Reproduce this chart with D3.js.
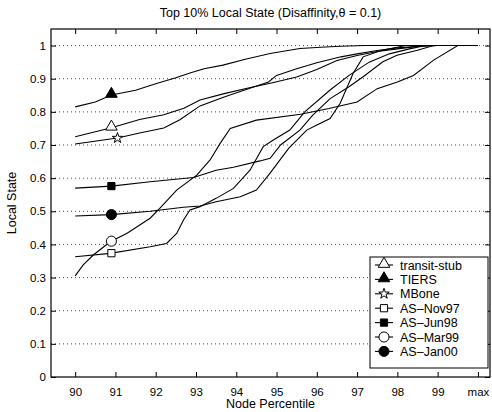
<!DOCTYPE html>
<html>
<head>
<meta charset="utf-8">
<script src="https://cdn.jsdelivr.net/npm/d3@7"></script>
<style>
body{margin:0;background:#fff;}
svg{font-family:"Liberation Sans",Arial,Helvetica,sans-serif;}
</style>
</head>
<body>
<div id="plot"></div>
<script>
// values (x = node percentile, 100 = "max")
var transitStub = [[90,0.725],[90.9,0.752],[91.6,0.777],[92.2,0.791],[92.7,0.811],[93.1,0.836],[93.7,0.855],[94.3,0.872],[94.9,0.888],[95.5,0.905],[96,0.928],[96.5,0.955],[97,0.97],[97.5,0.982],[98,0.99],[98.5,0.997],[99,1],[100,1]];
var tiers = [[90,0.815],[90.5,0.83],[90.9,0.851],[91.5,0.865],[92,0.885],[92.5,0.903],[92.85,0.917],[93.2,0.93],[93.67,0.941],[94.2,0.958],[94.84,0.976],[95.58,0.991],[96.1,0.995],[96.58,0.998],[97.2,1],[100,1]];
var mbone = [[90,0.703],[91.05,0.721],[91.6,0.736],[92.2,0.751],[92.6,0.776],[93.1,0.818],[93.7,0.845],[94.3,0.87],[94.8,0.89],[95,0.91],[95.5,0.93],[96,0.948],[96.6,0.966],[97,0.975],[97.5,0.985],[98,0.993],[98.5,0.998],[99,1],[100,1]];
var asNov97 = [[90,0.363],[90.87,0.373],[91.86,0.393],[92.27,0.403],[92.52,0.433],[92.69,0.474],[92.85,0.504],[93.1,0.514],[93.5,0.539],[93.93,0.569],[94.34,0.624],[94.67,0.695],[94.92,0.715],[95.33,0.745],[95.7,0.8],[96.33,0.866],[96.8,0.91],[97.3,0.95],[97.8,0.975],[98.3,0.99],[98.7,1],[100,1]];
var asJun98 = [[90,0.57],[90.9,0.576],[91.86,0.589],[92.94,0.602],[93.5,0.624],[93.93,0.633],[94.59,0.652],[94.84,0.66],[95.1,0.7],[95.58,0.745],[95.9,0.79],[96.33,0.84],[96.8,0.876],[97.15,0.906],[97.64,0.951],[97.99,0.971],[98.5,0.986],[98.9,1],[100,1]];
var asMar99 = [[90,0.305],[90.2,0.338],[90.45,0.368],[90.87,0.408],[91.28,0.433],[91.86,0.479],[92.1,0.509],[92.52,0.564],[93.02,0.609],[93.35,0.655],[93.6,0.705],[93.85,0.75],[94.5,0.775],[95.6,0.793],[96.3,0.81],[97,0.83],[97.5,0.87],[98,0.89],[98.4,0.91],[98.9,0.956],[99.5,1],[100,1]];
var asJan00 = [[90,0.486],[90.9,0.49],[91.86,0.5],[92.69,0.512],[93.1,0.516],[93.5,0.529],[94.1,0.544],[94.5,0.564],[94.84,0.615],[95.3,0.69],[95.75,0.745],[96,0.76],[96.33,0.78],[96.58,0.826],[96.9,0.916],[97.15,0.966],[97.6,0.985],[98.2,1],[100,1]];

var seriesNames = ['transit-stub','TIERS','MBone','AS\u2013Nov97','AS\u2013Jun98','AS\u2013Mar99','AS\u2013Jan00'];
var seriesData = [transitStub,tiers,mbone,asNov97,asJun98,asMar99,asJan00];
var markerType = ['triangle','triangle','star','square','square','circle','circle'];
var markerFilled = [false,true,false,false,true,false,true];
var markerAt = [90.9,90.9,91.05,90.9,90.9,90.9,90.9];

var xTicks = [90,91,92,93,94,95,96,97,98,99,100];
var xTickLabels = ['90','91','92','93','94','95','96','97','98','99','max'];
var yTicks = [0,0.1,0.2,0.3,0.4,0.5,0.6,0.7,0.8,0.9,1];

var W = 492, H = 412;
var margin = {t:29,r:2,b:35,l:51};
var width = W-margin.l-margin.r,
	height = H-margin.t-margin.b;

var svg = d3.select('#plot')
	.append('svg')
	.attr('width',W)
	.attr('height',H);

var plot = svg.append('g')
	.attr('transform','translate('+margin.l+','+margin.t+')');

var x = d3.scaleLinear().domain([89.4,100.3]).range([0,width]);
var y = d3.scaleLinear().domain([0,1.05]).range([height,0]);

// dotted grid
plot.selectAll('.grid')
	.data(yTicks.slice(1))
	.enter()
	.append('line')
	.attr('x1',0).attr('x2',width)
	.attr('y1',function(d){return y(d)}).attr('y2',function(d){return y(d)})
	.style('stroke','#222')
	.style('stroke-width',0.8)
	.style('stroke-dasharray','1,3');

var line = d3.line()
	.x(function(d){return x(d[0])})
	.y(function(d){return y(d[1])});

plot.selectAll('.series')
	.data(seriesData)
	.enter()
	.append('path')
	.attr('d',line)
	.style('fill','none')
	.style('stroke','#000')
	.style('stroke-width',1.1);

function valueAt(s,px){
	var i = d3.bisector(function(d){return d[0]}).left(s,px);
	if(i<=0) return s[0][1];
	var a = s[i-1], b = s[i];
	return a[1]+(b[1]-a[1])*(px-a[0])/(b[0]-a[0]);
}

function symbolFor(t){
	if(t=='triangle') return d3.symbol().type(d3.symbolTriangle).size(58)();
	if(t=='star') return d3.symbol().type(d3.symbolStar).size(34)();
	if(t=='square') return d3.symbol().type(d3.symbolSquare).size(52)();
	return d3.symbol().type(d3.symbolCircle).size(80)();
}

seriesData.forEach(function(s,i){
	var mx = markerAt[i];
	plot.append('path')
		.attr('d',symbolFor(markerType[i]))
		.attr('transform','translate('+x(mx)+','+(y(valueAt(s,mx))-(markerType[i]=='triangle'?1:0))+')')
		.style('fill',markerFilled[i]?'#000':'#fff')
		.style('stroke','#000')
		.style('stroke-width',1);
});

// frame and ticks (inward, all sides)
plot.append('rect')
	.attr('width',width).attr('height',height)
	.style('fill','none').style('stroke','#000').style('stroke-width',1.2);

var xAxis = plot.append('g')
	.attr('transform','translate(0,'+height+')')
	.call(d3.axisBottom(x).tickValues(xTicks).tickSizeInner(-5).tickSizeOuter(0)
		.tickFormat(function(d,i){return xTickLabels[i]}));
var xTop = plot.append('g')
	.call(d3.axisTop(x).tickValues(xTicks).tickSizeInner(-5).tickSizeOuter(0).tickFormat(''));
var yAxis = plot.append('g')
	.call(d3.axisLeft(y).tickValues(yTicks).tickSizeInner(-5).tickSizeOuter(0)
		.tickFormat(function(d){return d==0?'0':d==1?'1':d3.format('.1f')(d)}));
var yRight = plot.append('g')
	.attr('transform','translate('+width+',0)')
	.call(d3.axisRight(y).tickValues(yTicks).tickSizeInner(-5).tickSizeOuter(0).tickFormat(''));

[xAxis,xTop,yAxis,yRight].forEach(function(g){
	g.select('.domain').remove();
	g.selectAll('line').style('stroke','#000');
	g.selectAll('text').style('font-size','11.5px').style('fill','#000')
		.style('font-family','"Liberation Sans",Arial,sans-serif');
});
xAxis.selectAll('text').attr('dy','1.35em');
yAxis.selectAll('text').attr('x',-5);

// legend
var lg = svg.append('g').attr('transform','translate(370,257)');
lg.append('rect')
	.attr('width',118).attr('height',111)
	.style('fill','#fff').style('stroke','#000').style('stroke-width',1);
seriesNames.forEach(function(n,i){
	var ry = 8+i*14.4;
	lg.append('line').attr('x1',5).attr('x2',23).attr('y1',ry).attr('y2',ry)
		.style('stroke','#000').style('stroke-width',1.1);
	lg.append('path').attr('d',symbolFor(markerType[i]))
		.attr('transform','translate(14,'+(ry-(markerType[i]=='triangle'?1:0))+')')
		.style('fill',markerFilled[i]?'#000':'#fff')
		.style('stroke','#000').style('stroke-width',1);
	lg.append('text').attr('x',30).attr('y',ry+4.5).text(n)
		.style('font-size','12.5px');
});

// titles
svg.append('text')
	.attr('x',margin.l+width/2).attr('y',17)
	.attr('text-anchor','middle')
	.style('font-size','12.5px')
	.text('Top 10% Local State (Disaffinity,\u03b8 = 0.1)');
svg.append('text')
	.attr('x',margin.l+width/2).attr('y',408)
	.attr('text-anchor','middle')
	.style('font-size','12.5px')
	.text('Node Percentile');
svg.append('text')
	.attr('transform','translate(16,'+(margin.t+height/2)+') rotate(-90)')
	.attr('text-anchor','middle')
	.style('font-size','12.5px')
	.text('Local State');
</script>
</body>
</html>
